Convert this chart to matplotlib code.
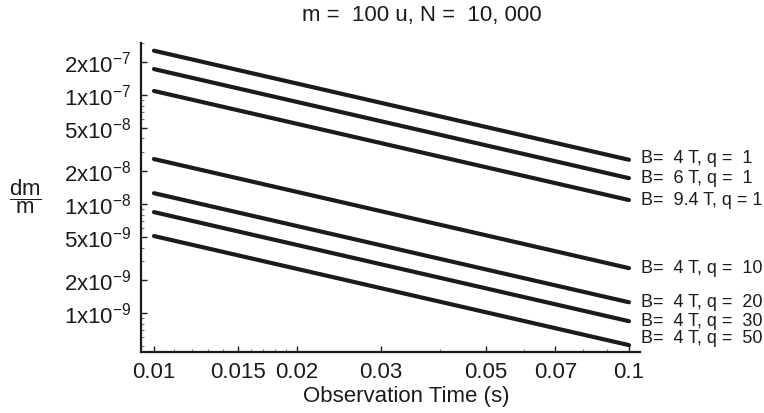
import numpy as np
import matplotlib.pyplot as plt
from matplotlib.ticker import FixedLocator, NullFormatter

plt.rcParams['font.family'] = ['Liberation Sans', 'DejaVu Sans']
plt.rcParams['mathtext.fontset'] = 'custom'
plt.rcParams['mathtext.rm'] = 'Liberation Sans'
plt.rcParams['mathtext.it'] = 'Liberation Sans:italic'

# observation time range (s)
T = [0.01, 0.1]

# dm/m at start and end of each line
dm_start = [2.55e-7, 1.73e-7, 1.09e-7, 2.59e-8, 1.26e-8, 8.45e-9, 5.1e-9]
dm_end = [2.55e-8, 1.73e-8, 1.09e-8, 2.59e-9, 1.26e-9, 8.45e-10, 5.1e-10]
labels = ["B=  4 T, q =  1", "B=  6 T, q =  1", "B=  9.4 T, q = 1",
          "B=  4 T, q =  10", "B=  4 T, q =  20", "B=  4 T, q =  30",
          "B=  4 T, q =  50"]
label_dy = [1, 0, 0, 0, 0, 0, 5]

xticks = [0.01, 0.015, 0.02, 0.03, 0.05, 0.07, 0.1]
xticklabels = ["0.01", "0.015", "0.02", "0.03", "0.05", "0.07", "0.1"]
yticks = [1e-9, 2e-9, 5e-9, 1e-8, 2e-8, 5e-8, 1e-7, 2e-7]
yticklabels = [r"$\mathrm{1x10^{-9}}$", r"$\mathrm{2x10^{-9}}$", r"$\mathrm{5x10^{-9}}$",
               r"$\mathrm{1x10^{-8}}$", r"$\mathrm{2x10^{-8}}$", r"$\mathrm{5x10^{-8}}$",
               r"$\mathrm{1x10^{-7}}$", r"$\mathrm{2x10^{-7}}$"]

col = "#1e1a1a"

fig = plt.figure(figsize=(7.64, 4.13), dpi=100)
ax = fig.add_axes([141/764, 1-352/413, 499/764, 309/413])

for s, e, lab, dy in zip(dm_start, dm_end, labels, label_dy):
    ax.plot(T, [s, e], color=col, lw=3, solid_capstyle='round')
    ax.annotate(lab, xy=(T[1], e), xytext=(9, dy), textcoords='offset points',
                fontsize=13, va='center', ha='left', color=col, annotation_clip=False)

ax.set_xscale('log')
ax.set_yscale('log')
ax.set_xlim(0.00939, 0.1055)
ax.set_ylim(4.41e-10, 3.0e-7)

ax.xaxis.set_major_locator(FixedLocator(xticks))
ax.set_xticklabels(xticklabels)
xminor = [0.011, 0.012, 0.013, 0.014, 0.016, 0.017, 0.018, 0.019,
          0.04, 0.06, 0.08, 0.09]
ax.xaxis.set_minor_locator(FixedLocator(xminor))
ax.xaxis.set_minor_formatter(NullFormatter())

ax.yaxis.set_major_locator(FixedLocator(yticks))
ax.set_yticklabels(yticklabels)
yminor = [m * 10.0**p for p in range(-10, -6) for m in range(1, 10)]
ax.yaxis.set_minor_locator(FixedLocator(yminor))
ax.yaxis.set_minor_formatter(NullFormatter())

ax.tick_params(which='major', direction='in', length=4, width=1, labelsize=16,
               colors=col, pad=7)
ax.tick_params(which='minor', direction='in', length=2, width=0.8, color='#777777')

for side in ['top', 'right']:
    ax.spines[side].set_visible(False)
for side in ['left', 'bottom']:
    ax.spines[side].set_linewidth(1.6)
    ax.spines[side].set_color(col)

ax.set_xlabel("Observation Time (s)", fontsize=16, color=col)
ax.xaxis.set_label_coords(0.531, -0.11)

fig.text(25/764, 1-197/413, r"$\dfrac{\mathrm{dm}}{\mathrm{m}}$", fontsize=16,
         ha='center', va='center', color=col)
fig.text(302/764, 1-16/413, "m =  100 u, N =  10, 000", fontsize=16,
         ha='left', va='center', color=col)

fig.savefig("out.png", dpi=100)
